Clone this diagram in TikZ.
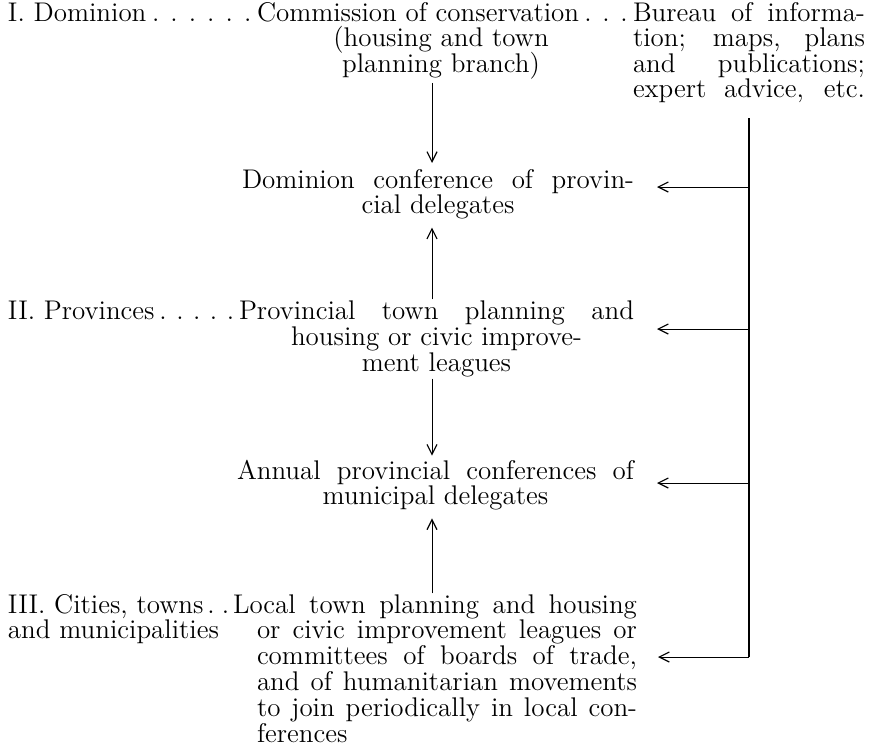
\documentclass[tikz,border=0pt]{standalone}
\usepackage{fontspec}
\usetikzlibrary{arrows.meta,calc}
\newcommand\spreaddots[2]{\hbox to #1{\xleaders\hbox to \dimexpr#1/#2-0.05pt\relax{\hss.\hss}\hfill}}
\newcommand\jline[2]{\makebox[#1][s]{#2}}
\tikzset{
  txt/.style={inner sep=0pt, outer sep=0pt, font=\fontsize{13.5pt}{12.9pt}\selectfont, anchor=base west},
  ctxt/.style={txt, anchor=base},
  conn/.style={line width=0.5pt},
  arr/.style={conn, -{Straight Barb[length=5pt,width=5pt,line width=0.6pt]}},
  spine/.style={line width=0.7pt},
}
\begin{document}
\begin{tikzpicture}[x=0.5pt,y=-0.5pt]
\useasboundingbox[fill=white] (0,0) rectangle (869,745);
% Row I
\node[txt] (lblI) at (8,21) {I. Dominion};
\node[txt] (com1) at (257,21) {Commission of conservation};
\node[ctxt] (com2) at (441,46.5) {(housing and town};
\node[ctxt] (com3) at (441,72) {planning branch)};
\node[txt] (bur1) at (633,21) {\jline{116pt}{Bureau of informa-}};
\node[txt] (bur2) at (633,46.5) {\jline{116pt}{tion; maps, plans}};
\node[txt] (bur3) at (633,72) {\jline{116pt}{and publications;}};
\node[txt] (bur4) at (633,97.5) {\jline{116pt}{expert advice, etc.}};
% Dominion conference
\node[txt] (dc1) at (242,188) {\jline{196pt}{Dominion conference of provin-}};
\node[ctxt] (dc2) at (438,213) {cial delegates};
% Row II
\node[txt] (lblII) at (8,319) {II. Provinces};
\node[txt] (pv1) at (239,319) {\jline{197.5pt}{Provincial town planning and}};
\node[ctxt] (pv2) at (436.5,345) {housing or civic improve-};
\node[ctxt] (pv3) at (436.5,371) {ment leagues};
% Annual conferences
\node[txt] (an1) at (237,479) {\jline{198.5pt}{Annual provincial conferences of}};
\node[ctxt] (an2) at (435.5,504.8) {municipal delegates};
% Row III
\node[txt] (lblIIIa) at (8,613) {III. Cities, towns};
\node[txt] (lblIIIb) at (8,638.8) {and municipalities};
\node[txt] (lo1) at (233,613) {\jline{202pt}{Local town planning and housing}};
\node[txt] (lo2) at (257,638.8) {\jline{190pt}{or civic improvement leagues or}};
\node[txt] (lo3) at (257,664.6) {\jline{190pt}{committees of boards of trade,}};
\node[txt] (lo4) at (257,690.4) {\jline{190pt}{and of humanitarian movements}};
\node[txt] (lo5) at (257,716.2) {\jline{190pt}{to join periodically in local con-}};
\node[txt] (lo6) at (257,742) {ferences};
% dot leaders
\path let \p1=(lblI.base east), \p2=(com1.base west), \n1={\x2-\x1} in
  node[txt] (dots1) at (\p1) {\spreaddots{\n1}{6}};
\path let \p1=(com1.base east), \p2=(bur1.base west), \n1={\x2-\x1} in
  node[txt] (dots2) at (\p1) {\spreaddots{\n1}{3}};
\path let \p1=(lblII.base east), \p2=(pv1.base west), \n1={\x2-\x1} in
  node[txt] (dots3) at (\p1) {\spreaddots{\n1}{5}};
\path let \p1=(lblIIIa.base east), \p2=(lo1.base west), \n1={\x2-\x1} in
  node[txt] (dots4) at (\p1) {\spreaddots{\n1}{2}};
% vertical connectors
\coordinate (vx) at (432,0);
\draw[arr, shorten <=2pt, shorten >=3pt] (com3.south -| vx) -- (dc1.north -| vx);
\draw[arr, shorten <=0.5pt, shorten >=4.5pt] (pv1.north -| vx) -- (dc2.south -| vx);
\draw[arr, shorten <=1pt, shorten >=2pt] (pv3.south -| vx) -- (an1.north -| vx);
\draw[arr, shorten <=0.5pt, shorten >=4pt] (lo1.north -| vx) -- (an2.south -| vx);
% spine and side arrows
\coordinate (j1) at (749,187);
\coordinate (j2) at (749,329);
\coordinate (j3) at (749,483);
\coordinate (j4) at (749,657);
\draw[spine, shorten <=7.7pt] (bur4.south -| j1) -- (j4);
\draw[arr, shorten >=11.5pt] (j1) -- (j1 -| dc1.east);
\draw[arr, shorten >=11.5pt] (j2) -- (j2 -| pv1.east);
\draw[arr, shorten >=11.5pt] (j3) -- (j3 -| an1.east);
\draw[arr, shorten >=10.5pt] (j4) -- (j4 -| lo3.east);
\end{tikzpicture}
\end{document}
